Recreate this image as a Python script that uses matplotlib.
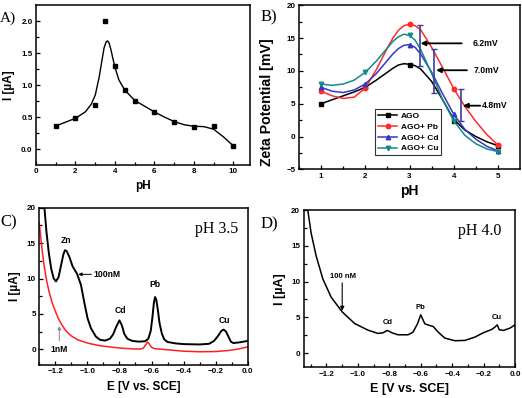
import matplotlib
matplotlib.use("Agg")
import matplotlib.pyplot as plt
import numpy as np

plt.rcParams['font.family'] = ['Liberation Sans', 'DejaVu Sans']
plt.rcParams['font.weight'] = 'bold'
plt.rcParams['axes.labelweight'] = 'bold'

SERIF = ['Liberation Serif', 'DejaVu Serif']

# ---------------- Panel A data ----------------
a_ph = [1, 2, 3, 3.5, 4, 4.5, 5, 6, 7, 8, 9, 10]
a_current = [0.36, 0.48, 0.68, 2.0, 1.3, 0.92, 0.75, 0.58, 0.42, 0.34, 0.36, 0.05]
a_fit_ph = [1, 1.5, 2, 2.5, 2.8, 3.0, 3.2, 3.35, 3.45, 3.55, 3.62, 3.7, 3.8, 3.9, 4.0,
            4.2, 4.5, 5.0, 5.5, 6.0, 6.5, 7.0, 7.5, 8.0, 8.5, 9.0, 9.5, 10.0]
a_fit_current = [0.36, 0.42, 0.48, 0.58, 0.70, 0.84, 1.12, 1.40, 1.58, 1.67, 1.69, 1.66,
                 1.55, 1.41, 1.28, 1.08, 0.92, 0.76, 0.67, 0.58, 0.50, 0.43, 0.38, 0.355,
                 0.35, 0.31, 0.19, 0.05]

# ---------------- Panel B data ----------------
b_ph = [1, 2, 3, 4, 5]
b_ago = [5.0, 7.5, 10.9, 2.4, -1.4]
b_pb = [6.9, 7.4, 17.1, 7.3, -1.3]
b_cd = [7.5, 8.0, 14.0, 3.4, -2.2]
b_cu = [8.0, 9.8, 15.4, 2.4, -2.3]
b_curve_ph = [1, 1.25, 1.5, 1.75, 2, 2.25, 2.5, 2.625, 2.75, 2.875, 3, 3.125, 3.25,
              3.5, 3.75, 4, 4.25, 4.5, 4.75, 5]
b_curve_ago = [5.0, 5.6, 6.2, 6.8, 7.5, 8.6, 9.8, 10.4, 10.9, 11.1, 11.0, 10.8, 10.3,
               8.4, 5.6, 2.6, 1.0, 0.0, -0.8, -1.4]
b_curve_pb = [6.9, 6.2, 5.8, 6.0, 7.4, 10.2, 13.5, 15.0, 16.2, 16.9, 17.1, 16.9, 16.3,
              13.6, 10.5, 7.3, 4.6, 2.3, 0.3, -1.3]
b_curve_cd = [7.5, 6.9, 6.7, 7.1, 8.0, 9.6, 11.6, 12.6, 13.4, 13.9, 14.0, 13.6, 12.6,
              9.8, 6.5, 3.4, 1.1, -0.4, -1.5, -2.2]
b_curve_cu = [8.0, 7.8, 8.0, 8.6, 9.8, 11.5, 13.5, 14.5, 15.2, 15.6, 15.4, 14.7, 13.3,
              9.6, 5.6, 2.4, 0.2, -1.1, -1.9, -2.3]
b_series_names = ['AGO', 'AGO+ Pb', 'AGO+ Cd', 'AGO+ Cu']
b_err_ph = [3.23, 3.55, 4.17]
b_err_low = [10.8, 6.6, 2.4]
b_err_high = [17.0, 13.3, 7.2]
b_err_labels = ['6.2mV', '7.0mV', '4.8mV']

# ---------------- Panel C data ----------------
c_e_100 = [-1.268, -1.255, -1.24, -1.225, -1.21, -1.196, -1.18, -1.165, -1.15, -1.14,
           -1.13, -1.113, -1.092, -1.065, -1.04, -1.02, -0.999, -0.978, -0.947, -0.92,
           -0.89, -0.86, -0.84, -0.82, -0.80, -0.785, -0.77, -0.75, -0.72, -0.68, -0.64,
           -0.62, -0.605, -0.595, -0.585, -0.578, -0.57, -0.56, -0.55, -0.535, -0.52,
           -0.50, -0.45, -0.40, -0.30, -0.24, -0.21, -0.185, -0.165, -0.15, -0.135,
           -0.12, -0.105, -0.09, -0.05, 0.0]
c_i_100 = [20.0, 16.5, 13.5, 11.3, 10.0, 9.6, 10.2, 11.8, 13.4, 14.0,
           13.9, 13.1, 11.7, 10.7, 9.1, 6.7, 4.4, 3.0, 1.8, 1.35,
           1.25, 1.5, 2.1, 3.2, 4.1, 3.4, 2.2, 1.5, 1.2, 1.1, 1.15,
           1.5, 2.6, 4.4, 6.6, 7.4, 7.0, 5.5, 3.7, 2.2, 1.4,
           1.05, 0.85, 0.75, 0.7, 0.8, 1.2, 1.9, 2.6, 2.8, 2.5,
           1.8, 1.1, 0.9, 1.0, 1.2]
c_e_1 = [-1.3, -1.285, -1.27, -1.255, -1.24, -1.22, -1.2, -1.18, -1.16, -1.14, -1.12,
         -1.1, -1.06, -1.0, -0.94, -0.88, -0.8, -0.72, -0.67, -0.65, -0.635, -0.625,
         -0.615, -0.6, -0.58, -0.5, -0.4, -0.3, -0.2, -0.12, -0.06, 0.0]
c_i_1 = [17.8, 14.5, 11.8, 9.8, 8.2, 6.6, 5.4, 4.3, 3.5, 2.8, 2.3,
         1.9, 1.35, 0.9, 0.6, 0.4, 0.2, 0.08, 0.05, 0.2, 0.7, 1.05,
         0.8, 0.3, 0.1, -0.05, -0.25, -0.33, -0.3, -0.15, 0.05, 0.35]
c_peak_names = ['Zn', 'Cd', 'Pb', 'Cu']
c_peak_e = [-1.134, -0.796, -0.58, -0.145]
c_peak_label_i = [15.4, 5.55, 9.1, 4.1]

# ---------------- Panel D data ----------------
d_e = [-1.319, -1.298, -1.266, -1.223, -1.17, -1.1, -1.021, -0.936, -0.872, -0.84,
       -0.813, -0.783, -0.745, -0.681, -0.649, -0.621, -0.6, -0.574, -0.543, -0.521,
       -0.489, -0.447, -0.383, -0.319, -0.255, -0.202, -0.149, -0.128, -0.113, -0.1,
       -0.074, -0.032, 0.0]
d_i = [20.0, 16.8, 13.6, 10.35, 7.8, 5.75, 4.13, 3.2, 2.74, 2.83,
       3.16, 2.83, 2.55, 2.55, 2.92, 4.08, 5.34, 4.08, 3.85, 3.71,
       2.92, 2.09, 1.72, 1.76, 2.23, 2.83, 3.29, 3.62, 3.94, 3.25,
       3.16, 3.48, 3.94]
d_peak_names = ['Cd', 'Pb', 'Cu']
d_peak_e = [-0.813, -0.6, -0.117]
d_peak_label_i = [4.3, 6.4, 4.9]

# ---------------- Figure ----------------
fig = plt.figure(figsize=(5.22, 3.98), dpi=100)
axA = fig.add_axes([0.0690, 0.5854, 0.4100, 0.4020])
axB = fig.add_axes([0.5728, 0.5746, 0.4234, 0.4121])
axC = fig.add_axes([0.0753, 0.0829, 0.3992, 0.3952])
axD = fig.add_axes([0.5818, 0.0771, 0.4048, 0.3952])

TICKFS = 5.8
for ax in (axA, axB, axC, axD):
    for s in ax.spines.values():
        s.set_linewidth(1.1)
    ax.tick_params(which='both', direction='in', top=False, right=False,
                   labelsize=TICKFS, width=0.9, pad=2.5)
    ax.tick_params(which='major', length=3)
    ax.tick_params(which='minor', length=2)

# Panel A
axA.plot(a_fit_ph, a_fit_current, color='black', lw=1.0)
axA.plot(a_ph, a_current, 's', color='black', ms=3.2)
axA.set_xlim(0, 10.85)
axA.set_ylim(-0.25, 2.25)
axA.set_xticks([0, 2, 4, 6, 8, 10])
axA.set_xticks([1, 3, 5, 7, 9], minor=True)
axA.set_yticks([0.0, 0.5, 1.0, 1.5, 2.0])
axA.set_yticklabels(['0.0', '0.5', '1.0', '1.5', '2.0'])
axA.set_yticks([0.25, 0.75, 1.25, 1.75], minor=True)
axA.set_xlabel('pH', fontsize=8.5, labelpad=3)
axA.set_ylabel('I [\u00b5A]', fontsize=8.5, labelpad=4)
fig.text(0.0, 0.945, 'A)', family=SERIF, fontsize=11, fontweight='normal')

# Panel B
colors = ['black', '#ff2a2a', '#3636c8', '#138a8a']
markers = ['s', 'o', '^', 'v']
curves = [b_curve_ago, b_curve_pb, b_curve_cd, b_curve_cu]
points = [b_ago, b_pb, b_cd, b_cu]
handles = []
for name, col, mk, cv, pt in zip(b_series_names, colors, markers, curves, points):
    axB.plot(b_curve_ph, cv, color=col, lw=1.1)
    axB.plot(b_ph, pt, mk, color=col, ms=3.2)
    h, = axB.plot([], [], color=col, lw=1.1, marker=mk, ms=3.2, label=name)
    handles.append(h)
lo = np.array(b_err_low)
hi = np.array(b_err_high)
axB.errorbar(b_err_ph, (lo + hi) / 2, yerr=(hi - lo) / 2, fmt='none',
             ecolor='#3d3d9c', elinewidth=1.2, capsize=2.5, capthick=1.0)
arrow_tail = [4.18, 4.30, 4.60]
arrow_head = [3.25, 3.60, 4.21]
arrow_y = [14.2, 10.1, 4.7]
text_x = [4.42, 4.45, 4.64]
for lab, tx, hx, ay, txx in zip(b_err_labels, arrow_tail, arrow_head, arrow_y, text_x):
    axB.annotate('', xy=(hx, ay), xytext=(tx, ay),
                 arrowprops=dict(arrowstyle='-|>', color='black', lw=1.3,
                                 mutation_scale=7, shrinkA=0, shrinkB=0))
    axB.text(txx, ay, lab, fontsize=6.2, fontweight='bold', va='center', ha='left')
axB.set_xlim(0.5, 5.5)
axB.set_ylim(-5, 20)
axB.set_xticks([1, 2, 3, 4, 5])
axB.set_xticks([0.5, 1.5, 2.5, 3.5, 4.5], minor=True)
axB.set_yticks([-5, 0, 5, 10, 15, 20])
axB.set_yticks([-2.5, 2.5, 7.5, 12.5, 17.5], minor=True)
axB.set_xlabel('pH', fontsize=10, labelpad=3)
axB.set_ylabel('Zeta Potential [mV]', fontsize=10.2)
axB.yaxis.set_label_coords(-0.115, 0.41)
leg = axB.legend(handles=handles, loc='upper left', bbox_to_anchor=(0.345, 0.365),
                 prop={'weight': 'bold', 'size': 6}, frameon=True,
                 fancybox=False, edgecolor='black', borderaxespad=0, borderpad=0.35,
                 labelspacing=0.35, handlelength=2.3, handletextpad=0.4)
leg.get_frame().set_linewidth(0.8)
fig.text(0.500, 0.945, 'B)', family=SERIF, fontsize=12, fontweight='normal')

# Panel C
axC.plot(c_e_100, c_i_100, color='black', lw=1.4)
axC.plot(c_e_1, c_i_1, color='#ff2020', lw=1.1)
for nm, ex, iy in zip(c_peak_names, c_peak_e, c_peak_label_i):
    axC.text(ex, iy, nm, fontsize=6.2, fontweight='bold', ha='center', va='center')
axC.annotate('', xy=(-1.057, 10.6), xytext=(-0.975, 10.6),
             arrowprops=dict(arrowstyle='-|>', color='black', lw=0.7,
                             mutation_scale=5, shrinkA=0, shrinkB=0))
axC.text(-0.965, 10.6, '100nM', fontsize=6.2, fontweight='bold', ha='left', va='center')
axC.annotate('', xy=(-1.175, 3.3), xytext=(-1.175, 1.2),
             arrowprops=dict(arrowstyle='-|>', color='#888888', lw=0.7,
                             mutation_scale=5, shrinkA=0, shrinkB=0))
axC.text(-1.175, 0.0, '1nM', fontsize=6.2, fontweight='bold', ha='center', va='center')
axC.text(-0.33, 17.0, 'pH 3.5', family=SERIF, fontsize=11.5, fontweight='normal',
         ha='left', va='center')
axC.set_xlim(-1.3, 0.0)
axC.set_ylim(-2.2, 20)
axC.set_xticks([-1.2, -1.0, -0.8, -0.6, -0.4, -0.2, 0.0])
axC.set_xticks([-1.3, -1.1, -0.9, -0.7, -0.5, -0.3, -0.1], minor=True)
axC.set_yticks([0, 5, 10, 15, 20])
axC.set_yticks([2.5, 7.5, 12.5, 17.5], minor=True)
axC.set_xlabel('E [V vs. SCE]', fontsize=8.5, labelpad=4)
axC.set_ylabel('I [\u00b5A]', fontsize=8.5, labelpad=4)
fig.text(0.0, 0.43, 'C)', family=SERIF, fontsize=12, fontweight='normal')

# Panel D
axD.plot(d_e, d_i, color='black', lw=1.1)
for nm, ex, iy in zip(d_peak_names, d_peak_e, d_peak_label_i):
    axD.text(ex, iy, nm, fontsize=5.5, fontweight='bold', ha='center', va='center')
axD.annotate('', xy=(-1.1, 5.9), xytext=(-1.1, 9.8),
             arrowprops=dict(arrowstyle='-|>', color='black', lw=0.8,
                             mutation_scale=6, shrinkA=0, shrinkB=0))
axD.text(-1.096, 10.7, '100 nM', fontsize=5.5, fontweight='bold', ha='center', va='center')
axD.text(-0.36, 17.0, 'pH 4.0', family=SERIF, fontsize=11.5, fontweight='normal',
         ha='left', va='center')
axD.set_xlim(-1.345, 0.0)
axD.set_ylim(-2.0, 20)
axD.set_xticks([-1.2, -1.0, -0.8, -0.6, -0.4, -0.2, 0.0])
axD.set_xticks([-1.3, -1.1, -0.9, -0.7, -0.5, -0.3, -0.1], minor=True)
axD.set_yticks([0, 5, 10, 15, 20])
axD.set_yticks([2.5, 7.5, 12.5, 17.5], minor=True)
axD.set_xlabel('E [V vs. SCE]', fontsize=9, labelpad=4)
axD.set_ylabel('I [\u00b5A]', fontsize=9, labelpad=4)
fig.text(0.500, 0.425, 'D)', family=SERIF, fontsize=12, fontweight='normal')

fig.savefig('out.png', dpi=100)
